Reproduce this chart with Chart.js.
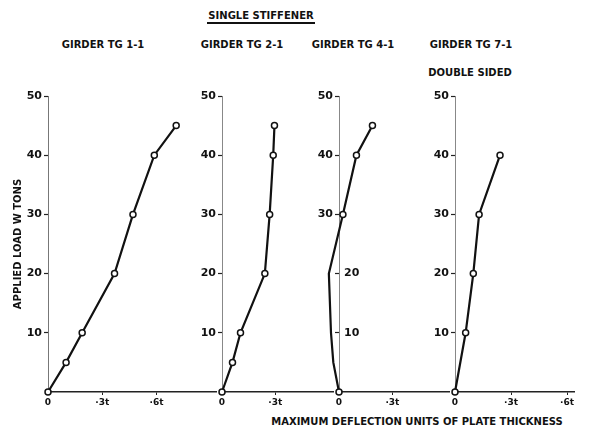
<!DOCTYPE html>
<html><head><meta charset="utf-8">
<script src="https://cdn.jsdelivr.net/npm/chart.js@4"></script>
<style>
body{margin:0;background:#fff;width:597px;height:430px;position:relative;overflow:hidden;font-family:"DejaVu Sans",sans-serif;font-weight:bold;color:#111}
canvas{position:absolute;top:0}
.t{position:absolute;font-size:10px;white-space:nowrap;transform:translate(-50%,-50%)}
</style></head><body>
<div class="t" style="left:261px;top:15px">SINGLE STIFFENER</div>
<div style="position:absolute;left:207px;top:22px;width:108px;height:2px;background:#111"></div>
<div class="t" style="left:103px;top:44px">GIRDER TG 1-1</div>
<div class="t" style="left:242px;top:44px">GIRDER TG 2-1</div>
<div class="t" style="left:353px;top:44px">GIRDER TG 4-1</div>
<div class="t" style="left:471px;top:44px">GIRDER TG 7-1</div>
<div class="t" style="left:470px;top:72px">DOUBLE SIDED</div>
<div class="t" style="left:417px;top:421px">MAXIMUM DEFLECTION UNITS OF PLATE THICKNESS</div>
<canvas id="c1" width="222" height="430" style="left:0px"></canvas>
<canvas id="c2" width="159" height="430" style="left:180px"></canvas>
<canvas id="c3" width="155" height="430" style="left:300px"></canvas>
<canvas id="c4" width="182" height="430" style="left:415px"></canvas>
<script>
// Data (deflection in units of plate thickness t, load in tons)
const load1 = [0, 5, 10, 20, 30, 40, 45];
const defl1 = [0, 0.100, 0.189, 0.368, 0.470, 0.588, 0.709];
const load2 = [0, 5, 10, 20, 30, 40, 45];
const defl2 = [0, 0.059, 0.104, 0.241, 0.268, 0.288, 0.295];
const load3 = [0, 5, 10, 20, 30, 40, 45];
const defl3 = [0, -0.032, -0.045, -0.057, 0.022, 0.098, 0.188];
const load4 = [0, 10, 20, 30, 40];
const defl4 = [0, 0.057, 0.098, 0.129, 0.241];

const xTicksWide = [0, 0.3, 0.6];
const xTicksNarrow = [0, 0.3];
const xTickLabels = ['0', '·3t', '·6t'];
const yTicks = [0, 10, 20, 30, 40, 50];

const FONT = 'DejaVu Sans';
Chart.defaults.font.family = FONT;
Chart.defaults.font.weight = 'bold';
Chart.defaults.color = '#111';

function xLabel(v) {
  const i = xTicksWide.findIndex(t => Math.abs(t - v) < 1e-6);
  return i >= 0 ? xTickLabels[i] : '';
}

function makePanel(id, load, defl, cfg) {
  const pts = load.map((w, i) => ({x: defl[i], y: w}));
  const scales = {
    x: {
      type: 'linear', min: 0, max: cfg.xmax,
      afterBuildTicks: s => { s.ticks = cfg.xticks.map(v => ({value: v})); },
      ticks: {autoSkip: false, maxRotation: 0, padding: 2, color: '#111',
              font: {size: 9, weight: 'bold'}, callback: v => xLabel(v)},
      grid: {display: true, drawOnChartArea: false, drawTicks: true, tickLength: 3,
             color: '#222', tickColor: '#222', lineWidth: 1, tickWidth: 1},
      border: {display: true, color: '#222', width: 1.5},
      afterFit: s => { s.height = 20; }
    },
    y: {
      type: 'linear', position: 'left', weight: 1, min: 0, max: 50,
      afterBuildTicks: s => { s.ticks = yTicks.map(v => ({value: v})); },
      ticks: {padding: 2, color: '#111', font: {size: 11, weight: 'bold'},
              callback: v => (v === 0 || (cfg.hideY || []).includes(v)) ? '' : String(v)},
      grid: {display: true, drawOnChartArea: false, drawTicks: true, tickLength: 4,
             color: '#222', lineWidth: 1, tickWidth: 1.2,
             tickColor: c => (c.tick && c.tick.value === 0) ? 'rgba(0,0,0,0)' : '#222'},
      border: {display: true, color: cfg.axisColor, width: 1},
      title: cfg.yTitle ? {display: true, text: cfg.yTitle, color: '#111',
              font: {size: 10, weight: 'bold'}, padding: {top: 12, bottom: 0}} : {display: false},
      afterFit: s => { s.width = cfg.yw; }
    }
  };
  if (cfg.mirrorY) {
    scales.y2 = {
      type: 'linear', position: 'left', weight: 0, min: 0, max: 50,
      afterBuildTicks: s => { s.ticks = yTicks.map(v => ({value: v})); },
      ticks: {mirror: true, padding: 5, color: '#111', font: {size: 11, weight: 'bold'},
              callback: v => cfg.mirrorY.includes(v) ? String(v) : ''},
      grid: {display: false}, border: {display: false},
      afterFit: s => { s.width = 0; }
    };
  }
  return new Chart(document.getElementById(id), {
    type: 'scatter',
    data: {datasets: [{
      data: pts, showLine: true, clip: false,
      borderColor: '#111', borderWidth: 2.2,
      pointRadius: 3, pointBackgroundColor: '#fff', pointBorderColor: '#111', pointBorderWidth: 1.5
    }]},
    options: {
      responsive: false, animation: false, events: [],
      layout: {padding: {left: 0, right: cfg.rp || 0, top: 96, bottom: 18}},
      plugins: {legend: {display: false}, tooltip: {enabled: false}},
      scales
    }
  });
}

makePanel('c1', load1, defl1, {xmax: 0.932, xticks: xTicksWide, yw: 48, axisColor: '#777', yTitle: 'APPLIED LOAD W TONS'});
makePanel('c2', load2, defl2, {xmax: 0.627, xticks: xTicksNarrow, yw: 42, axisColor: '#888'});
makePanel('c3', load3, defl3, {xmax: 0.621, xticks: xTicksNarrow, yw: 39, axisColor: '#888', hideY: [10, 20], mirrorY: [10, 20]});
makePanel('c4', load4, defl4, {xmax: 0.637, xticks: xTicksWide, yw: 40, axisColor: '#888', rp: 23});
</script>
</body></html>
